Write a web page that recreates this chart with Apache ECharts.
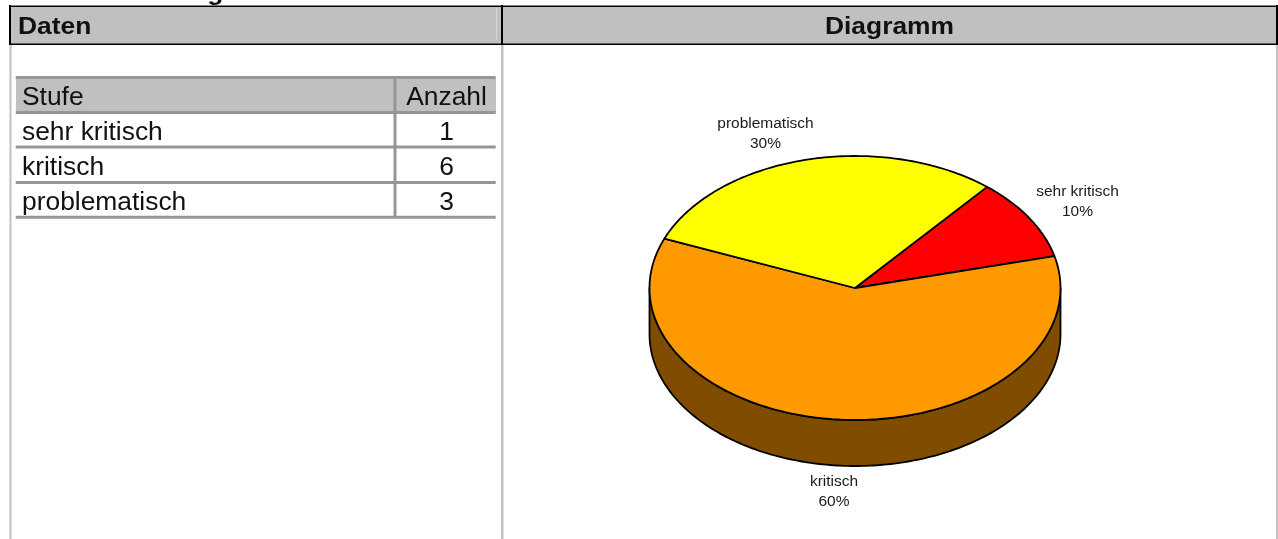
<!DOCTYPE html>
<html><head><meta charset="utf-8">
<style>html,body{margin:0;padding:0;background:#fff}#c{width:1278px;height:539px}</style>
<script src="https://cdn.jsdelivr.net/npm/echarts@6/dist/echarts.min.js"></script>
</head><body><div id="c"></div>
<script>
const pageTitle = 'Stufenverteilung alle';
const panelHeaders = ['Daten', 'Diagramm'];
const tableHeaders = ['Stufe', 'Anzahl'];
const categories = ['sehr kritisch', 'kritisch', 'problematisch'];
const counts = [1, 6, 3];
const percentLabels = ['10%', '60%', '30%'];
const sliceColors = ['#ff0000', '#ff9900', '#ffff00'];
const sideColors = ['#800000', '#804d00', '#808000'];

const PIE = {cx: 855, cy: 288, rx: 205.5, ry: 132, depth: 46, start: 50};
const labelPos = [[1077.5, 201.5], [834, 492], [765.5, 133.5]];
const total = counts.reduce((a, b) => a + b, 0);
const rad = d => d * Math.PI / 180;
const onEllipse = (deg, dy) => [PIE.cx + PIE.rx * Math.cos(rad(deg)), PIE.cy + (dy || 0) - PIE.ry * Math.sin(rad(deg))];
const arc = (a0, a1, dy) => { const n = Math.max(2, Math.ceil(Math.abs(a1 - a0))), p = [];
  for (let i = 0; i <= n; i++) p.push(onEllipse(a0 + (a1 - a0) * i / n, dy)); return p; };
const EDGE = 1.8;

function sliceAngles(api) {
  const idx = api.value(0);
  const before = counts.slice(0, idx).reduce((a, b) => a + b, 0);
  const a0 = PIE.start - before / total * 360;
  return [idx, a0, a0 - api.value(1) / total * 360];
}
function renderSide(params, api) {
  const [idx, a0, a1] = sliceAngles(api);
  const children = [];
  // only the front half of the rim is visible
  [-1, 0, 1].forEach(k => {
    const hi = Math.min(a0, 360 * k), lo = Math.max(a1, 360 * k - 180);
    if (hi > lo) children.push({type: 'polygon',
      shape: {points: arc(hi, lo, 0).concat(arc(lo, hi, PIE.depth))},
      style: {fill: sideColors[idx], stroke: '#000', lineWidth: EDGE, lineJoin: 'round'}});
  });
  return {type: 'group', children};
}
function renderTop(params, api) {
  const [idx, a0, a1] = sliceAngles(api);
  return {type: 'polygon', shape: {points: [[PIE.cx, PIE.cy]].concat(arc(a0, a1, 0))},
    style: {fill: sliceColors[idx], stroke: '#000', lineWidth: EDGE, lineJoin: 'round'}};
}
function renderLabel(params, api) {
  const idx = api.value(0);
  return {type: 'text', style: {x: labelPos[idx][0], y: labelPos[idx][1],
    text: categories[idx] + '\n' + percentLabels[idx], fill: '#1a1a1a',
    font: '15.5px "Liberation Sans"', lineHeight: 20, align: 'center', verticalAlign: 'middle'}};
}
const rows = counts.map((v, i) => [i, v]);

// Frame and table as native graphic elements
const g = [];
const rect = (x, y, w, h, fill) => g.push({type: 'rect', silent: true, shape: {x, y, width: w, height: h}, style: {fill}});
const text = (x, y, t, font, align, sx) => g.push({type: 'text', silent: true, x, y, scaleX: sx || 1,
  style: {x: 0, y: 0, text: t, font, fill: '#111', align: align || 'left', verticalAlign: 'middle'}});
const LINE = '#969696', HEAD = '#c0c0c0';
// panel frame
rect(10, 7, 1266, 37, HEAD);
rect(496, 8, 1, 31, '#d9d9d9');
rect(9.5, 44, 2, 495, HEAD); rect(501, 44, 2.5, 495, HEAD); rect(1276, 44, 2, 495, HEAD);
rect(9, 5.5, 1269, 1.5, '#000'); rect(9, 43.5, 1269, 1.5, '#000');
rect(9, 5, 2, 40, '#000'); rect(501, 5, 2, 40, '#000'); rect(1276, 5, 2, 40, '#000');
const BOLD = 'bold 24px "Liberation Sans"', WIDE = 1.1, CELL = '26.4px "Liberation Sans"';
text(18, 27, panelHeaders[0], BOLD, 'left', WIDE);
text(889.5, 27, panelHeaders[1], BOLD, 'center', WIDE);
text(15, -7, pageTitle, BOLD, 'left', WIDE);
// table
rect(16, 79, 480, 33, HEAD);
[76, 111, 145.5, 181, 215.7].forEach(y => rect(15.7, y, 480, 3, LINE));
rect(393.5, 76, 3, 140, LINE);
text(22, 97.5, tableHeaders[0], CELL);
text(446.5, 97.5, tableHeaders[1], CELL, 'center');
categories.forEach((c, i) => {
  text(22, 132.5 + i * 35, c, CELL);
  text(446.5, 132.5 + i * 35, String(counts[i]), CELL, 'center');
});

const chart = echarts.init(document.getElementById('c'), null, {renderer: 'canvas'});
chart.setOption({
  animation: false, backgroundColor: '#fff', tooltip: {show: false},
  graphic: g,
  series: [
    {type: 'custom', coordinateSystem: 'none', silent: true, z: 2, data: rows, renderItem: renderSide},
    {type: 'custom', coordinateSystem: 'none', silent: true, z: 3, data: rows, renderItem: renderTop},
    {type: 'custom', coordinateSystem: 'none', silent: true, z: 4, data: rows, renderItem: renderLabel}
  ]
});
</script></body></html>
